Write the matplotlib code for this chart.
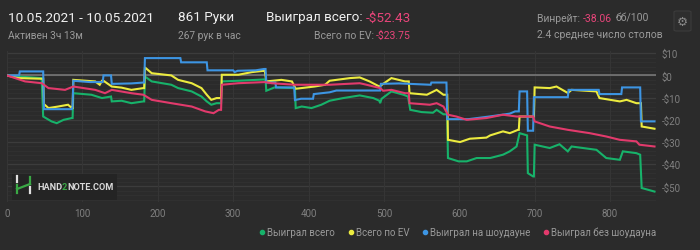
import matplotlib
matplotlib.use("Agg")
import matplotlib.pyplot as plt
from matplotlib.patches import FancyBboxPatch, Rectangle
from matplotlib.lines import Line2D
import numpy as np

# ---------------- data ----------------
green_x = [0, 15, 46, 48, 59, 66, 75, 86, 87, 88, 112, 126, 138, 139, 152, 165, 181, 182, 183, 192,
           218, 227, 245, 258, 265, 271, 278, 284, 285, 307, 342, 343, 344, 355, 380, 382, 383, 391,
           404, 417, 428, 446, 468, 486, 494, 495, 497, 510, 526, 532, 535, 550, 565, 570, 579, 584,
           585, 599, 610, 623, 641, 658, 667, 676, 680, 685, 690, 691, 698, 699, 700, 720, 733, 744,
           749, 782, 795, 813, 817, 835, 840, 842, 859]
green_y = [0, -0.5, -1.2, -18.5, -20.7, -21.5, -20, -19.2, -19.2, -8, -8.7, -10.2, -9.5, -11.7, -11.4,
           -12.5, -11.7, -11.7, -0.5, -2.7, -4.2, -5.7, -7.2, -9.5, -11.7, -13.2, -12.5, -12.5, -2.7,
           -2.4, -1.8, -1.8, -6.9, -5.4, -5.7, -5.7, -14.7, -14, -14.7, -13.2, -11.4, -10.2, -9,
           -10.2, -11.4, -12.5, -10.5, -7.2, -8.7, -9.5, -15.5, -16.5, -16.8, -15.5, -17.5, -17.5,
           -37.2, -38.7, -38.7, -37.2, -37.2, -35.7, -34.2, -32, -26, -26.5, -27, -44, -45.5, -45.5,
           -31.2, -32.7, -31, -34.2, -32, -33.5, -37.2, -38, -34.2, -35, -35.7, -50.7, -52.3]

yellow_x = [0, 15, 46, 48, 49, 55, 68, 81, 86, 87, 88, 117, 123, 126, 128, 139, 152, 165, 181, 182,
            183, 192, 218, 227, 245, 258, 265, 271, 278, 284, 285, 307, 325, 341, 342, 344, 364, 378,
            383, 408, 422, 428, 455, 468, 481, 494, 510, 528, 533, 534, 557, 570, 579, 584, 585, 601,
            614, 636, 641, 658, 667, 678, 679, 680, 698, 699, 700, 720, 729, 744, 749, 782, 786, 813,
            822, 835, 841, 842, 859]
yellow_y = [0, -1.2, -1.5, -1.5, -12.9, -14.7, -14, -13.2, -14.7, -14.7, -2, -2.7, -4.2, -2.4, -2.4,
            -5, -5.5, -6.5, -5.7, -5.7, 3.6, 1, 0, -2, -3.5, -5.7, -8.7, -11, -10.2, -10.2, 0.3, 0.3,
            1.5, 2.1, 2.1, -2.7, -2, -2.7, -6, -5, -4.2, -2.4, -1.2, -0.9, -2.7, -5, -1.2, -2.7, -2.7,
            -8, -8.7, -6.5, -8.7, -8.7, -29, -30, -28.5, -28, -27, -25.2, -26, -24.5, -24.5, -18.5,
            -18.5, -18.5, -5.4, -5.7, -5, -7.9, -6.5, -7.2, -10.2, -11.7, -11, -12.5, -12.5, -23, -24]

blue_x = [0, 16, 17, 48, 49, 86, 87, 88, 110, 127, 128, 138, 139, 165, 181, 182, 183, 230, 231, 265,
          266, 300, 302, 306, 330, 341, 343, 344, 356, 357, 381, 382, 390, 406, 407, 428, 437, 495,
          496, 520, 562, 563, 583, 584, 612, 640, 667, 674, 679, 680, 690, 691, 698, 699, 744, 745,
          785, 786, 815, 816, 840, 841, 859]
blue_y = [0, 0, 1.8, 1.8, -15.2, -15.2, -14, -2.4, -3, -3, 0, 0, -3.8, -3.6, -3.2, -3.2, 7.8, 7.8,
          5.9, 5.9, 2.3, 2.3, 1.5, 2.1, 2.3, 2.9, 2.9, -3.2, -3.2, -5.4, -5.4, -11.1, -10.5, -10.5,
          -8.4, -7.6, -6.8, -6.8, -3.8, -3.6, -4.2, -3.2, -3.2, -19.7, -19.7, -18.5, -17.2, -16.2,
          -16.2, -7.2, -7.2, -24.9, -24.9, -9.8, -9.8, -6.5, -6.5, -8.4, -8.4, -5.4, -5.4, -20.7,
          -20.7]

pink_x = [0, 24, 46, 55, 77, 88, 117, 130, 139, 165, 181, 192, 218, 245, 263, 274, 281, 284, 285, 307,
          342, 351, 382, 428, 468, 477, 495, 499, 510, 528, 533, 534, 561, 570, 579, 585, 596, 610,
          636, 658, 676, 698, 700, 720, 744, 773, 795, 813, 835, 839, 859]
pink_y = [0, -2.7, -3.5, -5.7, -6.5, -5, -6.5, -8, -6.5, -8, -8.7, -11, -12.5, -14, -16.2, -17, -15.5,
          -15.5, -4.2, -3.5, -3, -3.5, -4.2, -4.2, -3.5, -4.2, -5.7, -6.9, -6.5, -8, -8, -12.5,
          -13.2, -12.5, -14, -17.7, -18.5, -20, -19.2, -17.7, -18.5, -18.5, -20.7, -23, -24.5, -26,
          -27.5, -29, -29.7, -31.2, -32]

series_names = ["Выиграл всего", "Всего по EV", "Выиграл на шоудауне", "Выиграл без шоудауна"]
series_colors = ["#17b26a", "#eceb3f", "#3d95e3", "#e23a6c"]

x_ticks = [0, 100, 200, 300, 400, 500, 600, 700, 800]
y_ticks = [10, 0, -10, -20, -30, -40, -50]

# ---------------- style ----------------
BG = "#2b2b2b"
WHITE = "#f0f0f0"
GRAY = "#9a9a9a"
PINK = "#e8457a"
plt.rcParams['font.family'] = ['Roboto', 'DejaVu Sans']

W, H = 700, 251
fig = plt.figure(figsize=(W / 100, H / 100), dpi=100, facecolor=BG)

def fx(px):
    return px / W

def fy(py):
    return 1 - py / H

ax = fig.add_axes([fx(7), fy(203), fx(656) - fx(7), fy(52) - fy(203)])
ax.set_facecolor(BG)
ax.set_xlim(0, 861)
ax.set_ylim(-57, 11)

for s in ax.spines.values():
    s.set_visible(False)

# grid
for v in np.arange(-56, 11, 2.0):
    ax.axhline(v, color="#323232", lw=0.6, zorder=0)
for v in y_ticks:
    ax.axhline(v, color="#3c3c3c", lw=0.9, zorder=0)
for v in x_ticks:
    ax.axvline(v, color="#353535", lw=0.8, zorder=0)
ax.axhline(0, color="#7c7c7c", lw=1.1, zorder=1)

ax.yaxis.tick_right()
ax.set_yticks(y_ticks)
ax.set_yticklabels([("-$%d" % -v) if v < 0 else ("$%d" % v) for v in y_ticks])
ax.set_xticks(x_ticks)
ax.set_xticklabels([str(v) for v in x_ticks])
ax.tick_params(axis='both', length=0, colors="#808080", labelsize=7)
ax.tick_params(axis='y', pad=4)
ax.tick_params(axis='x', pad=4)

data = [(green_x, green_y), (yellow_x, yellow_y), (blue_x, blue_y), (pink_x, pink_y)]
order = [3, 2, 0, 1]
for i in order:
    xs, ys = data[i]
    ax.plot(xs, ys, color=series_colors[i], lw=1.5, zorder=3 + i, solid_joinstyle='miter')

# ---------------- header ----------------
fig.text(fx(8), fy(18), "10.05.2021 - 10.05.2021", color=WHITE, fontsize=9.7, va='center', ha='left')
fig.text(fx(8), fy(36), "Активен 3ч 13м", color=GRAY, fontsize=7.3, va='center', ha='left')
fig.text(fx(178), fy(18), "861 Руки", color=WHITE, fontsize=9.7, va='center', ha='left')
fig.text(fx(178), fy(36), "267 рук в час", color=GRAY, fontsize=7.3, va='center', ha='left')

fig.canvas.draw()
r = fig.canvas.get_renderer()

v1 = fig.text(fx(411), fy(18), "-$52.43", color=PINK, fontsize=9.7, va='center', ha='right')
b = v1.get_window_extent(r)
fig.text(b.x0 / W, fy(18), "Выиграл всего: ", color=WHITE, fontsize=9.7, va='center', ha='right')
v2 = fig.text(fx(411), fy(36), "-$23.75", color=PINK, fontsize=7.5, va='center', ha='right')
b = v2.get_window_extent(r)
fig.text(b.x0 / W, fy(36), "Всего по EV: ", color=GRAY, fontsize=7.5, va='center', ha='right')

fig.text(fx(537), fy(19), "Винрейт: ", color=GRAY, fontsize=7.5, va='center', ha='left')
fig.text(fx(583), fy(19), "-38.06", color=PINK, fontsize=7.5, va='center', ha='left')
fig.text(fx(616), fy(19), "бб/100", color=GRAY, fontsize=7.5, va='center', ha='left')
fig.text(fx(537), fy(35), "2.4 среднее число столов", color=GRAY, fontsize=7.5, va='center', ha='left')

gear = FancyBboxPatch((fx(674), fy(32)), fx(17), fy(12) - fy(32),
                      boxstyle="round,pad=0,rounding_size=0.004", transform=fig.transFigure,
                      facecolor="#2e2e2e", edgecolor="#3c3c3c", lw=0.8)
fig.patches.append(gear)
fig.text(fx(682.5), fy(22), "\u2699", color="#8a8a8a", fontsize=9, va='center', ha='center',
         family=['DejaVu Sans'])

# ---------------- watermark ----------------
wm = Rectangle((fx(12), fy(201)), fx(105), fy(175) - fy(201), transform=fig.transFigure,
               facecolor="#242424", edgecolor='none', zorder=5)
fig.patches.append(wm)
logo_green = "#3aa845"
for (xa, ya, xb, yb, c) in [
    (17, 177, 17, 183, "#e0e0e0"),
    (17, 186, 17, 194, logo_green),
    (17, 190, 30, 185, logo_green),
    (30, 178, 30, 185, logo_green),
    (30, 188, 30, 194, "#e0e0e0"),
]:
    fig.add_artist(Line2D([fx(xa), fx(xb)], [fy(ya), fy(yb)], color=c, lw=1.6,
                          transform=fig.transFigure, zorder=6))
t1 = fig.text(fx(37), fy(187.5), "HAND", color="#d8d8d8", fontsize=6.6, fontweight='bold',
              va='center', ha='left', zorder=7)
bb = t1.get_window_extent(r)
t2 = fig.text(bb.x1 / W, fy(187.5), "2", color=logo_green, fontsize=6.6, fontweight='bold',
              va='center', ha='left', zorder=7)
bb2 = t2.get_window_extent(r)
fig.text(bb2.x1 / W, fy(187.5), "NOTE.COM", color="#d8d8d8", fontsize=6.6, fontweight='bold',
         va='center', ha='left', zorder=7)

# ---------------- legend ----------------
leg_dot_x = [262, 351, 425, 546]
leg_y = 233
for i in range(4):
    fig.add_artist(Line2D([fx(leg_dot_x[i])], [fy(leg_y)], marker='o', markersize=3,
                          color=series_colors[i], transform=fig.transFigure, lw=0))
    fig.text(fx(leg_dot_x[i] + 5), fy(leg_y), series_names[i], color=GRAY, fontsize=7,
             va='center', ha='left')

fig.savefig("out.png", dpi=100, facecolor=BG)
